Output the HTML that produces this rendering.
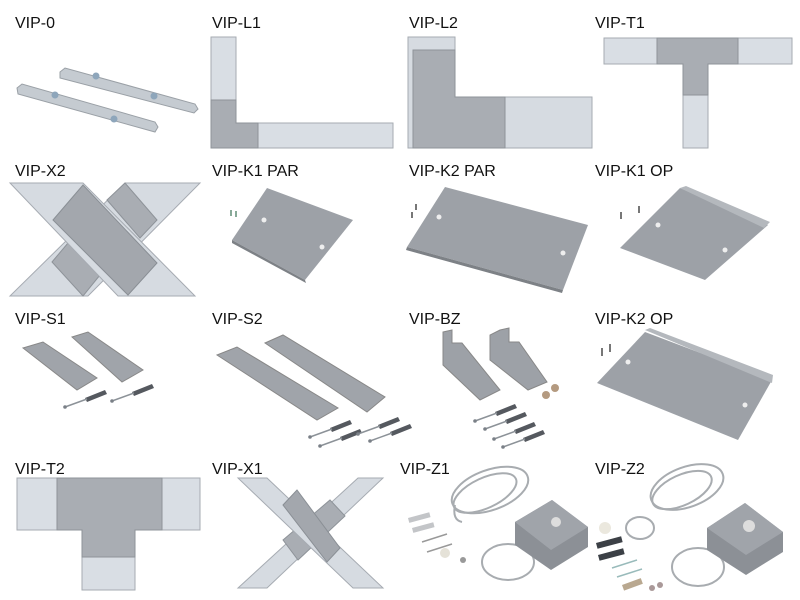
<!DOCTYPE html>
<html><head><meta charset="utf-8"><style>
html,body{margin:0;padding:0;background:#fff;width:800px;height:600px;overflow:hidden}
text{font-family:"Liberation Sans",sans-serif;font-size:16px;fill:#111}
</style></head><body>
<svg width="800" height="600" viewBox="0 0 800 600" xmlns="http://www.w3.org/2000/svg">
<defs>
<g id="anchor"><polygon points="0,0 20,-8 22,-4 2,4" fill="#55595f"/><line x1="-20" y1="9" x2="2" y2="1" stroke="#8c9298" stroke-width="1.5"/><circle cx="-20" cy="9" r="1.8" fill="#7a8087"/></g>
</defs>
<!-- labels -->
<text x="15" y="28">VIP-0</text><text x="212" y="28">VIP-L1</text><text x="409" y="28">VIP-L2</text><text x="595" y="28">VIP-T1</text>
<text x="15" y="176">VIP-X2</text><text x="212" y="176">VIP-K1 PAR</text><text x="409" y="176">VIP-K2 PAR</text><text x="595" y="176">VIP-K1 OP</text>
<text x="15" y="324">VIP-S1</text><text x="212" y="324">VIP-S2</text><text x="409" y="324">VIP-BZ</text><text x="595" y="324">VIP-K2 OP</text>
<text x="15" y="474">VIP-T2</text><text x="212" y="474">VIP-X1</text><text x="400" y="474">VIP-Z1</text><text x="595" y="474">VIP-Z2</text>

<!-- VIP-0 -->
<polygon points="17,88 22,84 155,122 158,127 155,132 18,94" fill="#c5cbd1" stroke="#9aa0a6"/>
<polygon points="60,72 65,68 195,104 198,109 194,113 60,78" fill="#c5cbd1" stroke="#9aa0a6"/>
<g fill="#8ea6bb"><circle cx="55" cy="95" r="3.5"/><circle cx="114" cy="119" r="3.5"/><circle cx="96" cy="76" r="3.5"/><circle cx="154" cy="96" r="3.5"/></g>

<!-- VIP-L1 -->
<rect x="211" y="37" width="25" height="111" fill="#d9dee4" stroke="#a6abb2"/>
<rect x="236" y="123" width="157" height="25" fill="#d9dee4" stroke="#a6abb2"/>
<polygon points="211,100 236,100 236,123 258,123 258,148 211,148" fill="#a9adb3" stroke="#8e9399"/>

<!-- VIP-L2 -->
<rect x="408" y="37" width="47" height="111" fill="#d6dbe1" stroke="#a6abb2"/>
<rect x="455" y="97" width="137" height="51" fill="#d6dbe1" stroke="#a6abb2"/>
<polygon points="413,50 455,50 455,97 505,97 505,148 413,148" fill="#a9adb3" stroke="#8e9399"/>

<!-- VIP-T1 -->
<rect x="604" y="38" width="188" height="26" fill="#d9dee4" stroke="#a6abb2"/>
<rect x="683" y="64" width="25" height="84" fill="#d9dee4" stroke="#a6abb2"/>
<polygon points="657,38 738,38 738,64 708,64 708,95 683,95 683,64 657,64" fill="#a9adb3" stroke="#8e9399"/>

<!-- VIP-X2 -->
<polygon points="125,183 200,183 88,296 10,296" fill="#d6dbe1" stroke="#a6abb2"/>
<polygon points="107,200 125,183 157,220 140,238" fill="#a9adb3" stroke="#8e9399"/>
<polygon points="52,262 68,243 100,275 83,296" fill="#a9adb3" stroke="#8e9399"/>
<polygon points="10,183 83,183 195,296 118,296" fill="#d6dbe1" stroke="#a6abb2"/>
<polygon points="53,220 83,185 157,263 128,295" fill="#a3a7ad" stroke="#8a8f95"/>

<!-- VIP-K1 PAR -->
<polygon points="267,188 353,220 305,280 232,240" fill="#9da1a7"/>
<polygon points="232,240 305,280 306,283 232,243" fill="#7d8186"/>
<circle cx="264" cy="220" r="2.5" fill="#eee"/><circle cx="322" cy="247" r="2.5" fill="#eee"/>
<g fill="#8a9"><rect x="230" y="210" width="2" height="6"/><rect x="235" y="211" width="2" height="6"/></g>

<!-- VIP-K2 PAR -->
<polygon points="445,187 588,225 563,290 407,247" fill="#9da1a7"/>
<polygon points="407,247 563,290 562,293 406,250" fill="#7d8186"/>
<circle cx="439" cy="217" r="2.5" fill="#eee"/><circle cx="563" cy="253" r="2.5" fill="#eee"/>
<g fill="#777"><rect x="411" y="212" width="2" height="6"/><rect x="415" y="204" width="2" height="6"/></g>

<!-- VIP-K1 OP -->
<polygon points="680,188 768,225 705,280 620,248" fill="#9da1a7"/>
<polygon points="680,188 686,186 770,222 764,228" fill="#b4b8bd"/>
<circle cx="658" cy="225" r="2.5" fill="#eee"/><circle cx="725" cy="250" r="2.5" fill="#eee"/>
<g fill="#777"><rect x="620" y="212" width="2" height="7"/><rect x="638" y="206" width="2" height="7"/></g>

<!-- VIP-S1 -->
<polygon points="23,348 43,342 97,378 77,390" fill="#a0a4aa" stroke="#888"/>
<polygon points="72,337 88,332 143,370 122,382" fill="#a0a4aa" stroke="#888"/>
<use href="#anchor" x="85" y="398"/><use href="#anchor" x="132" y="392"/>

<!-- VIP-S2 -->
<polygon points="217,355 237,347 338,408 317,420" fill="#a0a4aa" stroke="#888"/>
<polygon points="265,343 283,335 385,397 367,412" fill="#a0a4aa" stroke="#888"/>
<use href="#anchor" x="330" y="428"/><use href="#anchor" x="340" y="437"/>
<use href="#anchor" x="378" y="425"/><use href="#anchor" x="390" y="432"/>

<!-- VIP-BZ -->
<polygon points="443,332 452,330 452,343 462,343 500,390 480,400 443,365" fill="#9da1a7" stroke="#888"/>
<polygon points="500,330 509,328 509,342 519,342 547,382 528,390 490,360 490,335" fill="#9da1a7" stroke="#888"/>
<use href="#anchor" x="495" y="412"/><use href="#anchor" x="505" y="420"/><use href="#anchor" x="514" y="430"/><use href="#anchor" x="523" y="438"/>
<circle cx="546" cy="395" r="4" fill="#b49a80"/><circle cx="555" cy="388" r="4" fill="#b49a80"/>

<!-- VIP-K2 OP -->
<polygon points="645,332 772,380 738,440 597,383" fill="#9da1a7"/>
<polygon points="645,330 650,328 773,375 772,383" fill="#b4b8bd"/>
<circle cx="628" cy="362" r="2.5" fill="#eee"/><circle cx="745" cy="405" r="2.5" fill="#eee"/>
<g fill="#777"><rect x="601" y="348" width="2" height="8"/><rect x="609" y="344" width="2" height="8"/></g>

<!-- VIP-T2 -->
<rect x="17" y="478" width="183" height="52" fill="#d9dee4" stroke="#a6abb2"/>
<rect x="82" y="530" width="53" height="60" fill="#d9dee4" stroke="#a6abb2"/>
<polygon points="57,478 162,478 162,530 135,530 135,557 82,557 82,530 57,530" fill="#a9adb3" stroke="#8e9399"/>

<!-- VIP-X1 -->
<polygon points="358,478 383,478 267,588 238,588" fill="#d6dbe1" stroke="#a6abb2"/>
<polygon points="283,540 330,500 345,516 298,560" fill="#a9adb3" stroke="#8e9399"/>
<polygon points="238,478 267,478 383,588 353,588" fill="#d6dbe1" stroke="#a6abb2"/>
<polygon points="283,505 297,490 340,548 327,562" fill="#a3a7ad" stroke="#8a8f95"/>

<!-- VIP-Z1 -->
<g fill="none" stroke="#a8acb0" stroke-width="2">
<ellipse cx="490" cy="490" rx="40" ry="20" transform="rotate(-20 490 490)"/>
<ellipse cx="485" cy="493" rx="34" ry="15" transform="rotate(-25 485 493)"/>
<path d="M455 505 Q452 520 462 522"/>
<ellipse cx="508" cy="562" rx="26" ry="18"/>
</g>
<polygon points="515,522 552,500 588,527 588,547 551,570 515,545" fill="#8c9096"/>
<polygon points="515,522 552,500 588,527 551,550" fill="#a0a4aa"/>
<circle cx="556" cy="522" r="5" fill="#ddd"/>
<g fill="#c3c5c8"><rect x="408" y="518" width="22" height="5" transform="rotate(-15 408 518)"/><rect x="412" y="528" width="22" height="5" transform="rotate(-15 412 528)"/></g>
<line x1="422" y1="542" x2="447" y2="534" stroke="#999" stroke-width="1.5"/>
<line x1="427" y1="552" x2="452" y2="544" stroke="#999" stroke-width="1.5"/>
<circle cx="445" cy="553" r="5" fill="#e5e2d8"/><circle cx="463" cy="560" r="3" fill="#999"/>

<!-- VIP-Z2 -->
<g fill="none" stroke="#a8acb0" stroke-width="2">
<ellipse cx="687" cy="487" rx="38" ry="20" transform="rotate(-20 687 487)"/>
<ellipse cx="682" cy="490" rx="32" ry="15" transform="rotate(-25 682 490)"/>
<ellipse cx="640" cy="528" rx="14" ry="11"/>
<ellipse cx="698" cy="567" rx="26" ry="19"/>
</g>
<polygon points="707,528 745,503 783,532 783,552 746,575 707,550" fill="#8c9096"/>
<polygon points="707,528 745,503 783,532 746,555" fill="#a0a4aa"/>
<circle cx="749" cy="526" r="6" fill="#ddd"/>
<circle cx="605" cy="528" r="6" fill="#ebe8de"/>
<g fill="#3c4046"><rect x="596" y="543" width="26" height="6" transform="rotate(-15 596 543)"/><rect x="598" y="555" width="26" height="6" transform="rotate(-15 598 555)"/></g>
<line x1="612" y1="568" x2="637" y2="560" stroke="#9bb" stroke-width="1.5"/>
<line x1="617" y1="577" x2="642" y2="569" stroke="#9bb" stroke-width="1.5"/>
<rect x="622" y="585" width="20" height="6" fill="#b9a890" transform="rotate(-20 622 585)"/>
<circle cx="652" cy="588" r="3" fill="#a99"/><circle cx="660" cy="585" r="3" fill="#a99"/>
</svg>
</body></html>
